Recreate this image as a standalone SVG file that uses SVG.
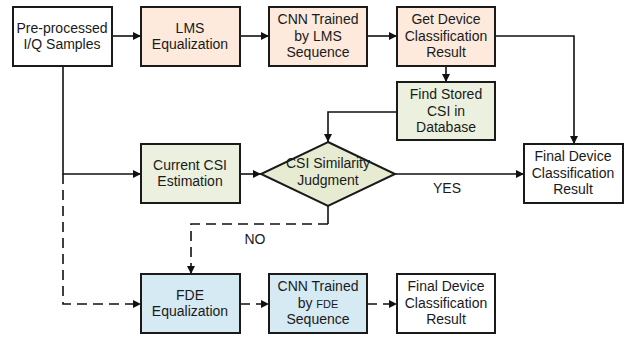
<svg xmlns="http://www.w3.org/2000/svg" width="629" height="337" viewBox="0 0 629 337">
<style>
.box{stroke:#1a1a1a;stroke-width:2}
.w{fill:#ffffff}.p{fill:#fdeadc}.g{fill:#ebf1de}.b{fill:#d5eaf2}
text{font-family:"Liberation Sans",Arial,sans-serif;font-size:14px;fill:#1a1a1a;text-anchor:middle}
.c{fill:none;stroke:#111;stroke-width:1.6}
.d{stroke-dasharray:10,6}
</style>
<defs>
<marker id="a" viewBox="0 0 10 10" refX="10" refY="5" markerWidth="8" markerHeight="8" markerUnits="userSpaceOnUse" orient="auto"><path d="M0,0 L10,5 L0,10 z" fill="#111"/></marker>
</defs>
<rect width="629" height="337" fill="#ffffff"/>
<g id="connectors">
<path class="c" d="M112,36 H141" marker-end="url(#a)"/>
<path class="c" d="M240,36 H269" marker-end="url(#a)"/>
<path class="c" d="M367,36 H397" marker-end="url(#a)"/>
<path class="c" d="M446,66 V82" marker-end="url(#a)"/>
<path class="c" d="M495,36 H574 V144" marker-end="url(#a)"/>
<path class="c" d="M397,112 H328 V142" marker-end="url(#a)"/>
<path class="c" d="M63,66 V174 H141" marker-end="url(#a)"/>
<path class="c" d="M240,174 H261" marker-end="url(#a)"/>
<path class="c" d="M395,174 H524" marker-end="url(#a)"/>
<path class="c" d="M328,206 V224"/>
<path class="c d" d="M328,224 H191 V274" marker-end="url(#a)"/>
<path class="c d" d="M63,174 V304 H141" marker-end="url(#a)"/>
<path class="c d" d="M240,304 H269" marker-end="url(#a)"/>
<path class="c d" d="M367,304 H397" marker-end="url(#a)"/>
<text x="447" y="193">YES</text>
<text x="255" y="244">NO</text>
</g>
<g id="preprocessed">
<rect class="box w" x="13" y="7" width="99" height="59"/>
<text x="62" y="33">Pre-processed</text>
<text x="62" y="49">I/Q Samples</text>
</g>
<g id="lms-eq">
<rect class="box p" x="141" y="7" width="99" height="59"/>
<text x="190" y="33">LMS</text>
<text x="190" y="49">Equalization</text>
</g>
<g id="cnn-lms">
<rect class="box p" x="269" y="7" width="98" height="59"/>
<text x="318" y="24">CNN Trained</text>
<text x="318" y="41">by LMS</text>
<text x="318" y="57">Sequence</text>
</g>
<g id="get-device">
<rect class="box p" x="397" y="7" width="98" height="59"/>
<text x="446" y="24">Get Device</text>
<text x="446" y="41">Classification</text>
<text x="446" y="57">Result</text>
</g>
<g id="find-stored">
<rect class="box g" x="397" y="82" width="98" height="58"/>
<text x="446" y="99">Find Stored</text>
<text x="446" y="116">CSI in</text>
<text x="446" y="132">Database</text>
</g>
<g id="current-csi">
<rect class="box g" x="141" y="144" width="99" height="59"/>
<text x="190" y="170">Current CSI</text>
<text x="190" y="186">Estimation</text>
</g>
<g id="similarity">
<path class="box" fill="#e6ebd2" d="M328,142 L395,174 L328,206 L261,174 z"/>
<text x="328" y="168">CSI Similarity</text>
<text x="328" y="185">Judgment</text>
</g>
<g id="final-top">
<rect class="box w" x="524" y="144" width="99" height="59"/>
<text x="573" y="161">Final Device</text>
<text x="573" y="178">Classification</text>
<text x="573" y="194">Result</text>
</g>
<g id="fde-eq">
<rect class="box b" x="141" y="274" width="99" height="59"/>
<text x="190" y="300">FDE</text>
<text x="190" y="316">Equalization</text>
</g>
<g id="cnn-fde">
<rect class="box b" x="269" y="274" width="98" height="59"/>
<text x="318" y="291">CNN Trained</text>
<text x="318" y="308">by <tspan font-size="11">FDE</tspan></text>
<text x="318" y="324">Sequence</text>
</g>
<g id="final-bottom">
<rect class="box w" x="397" y="274" width="98" height="59"/>
<text x="446" y="291">Final Device</text>
<text x="446" y="308">Classification</text>
<text x="446" y="324">Result</text>
</g>
</svg>
